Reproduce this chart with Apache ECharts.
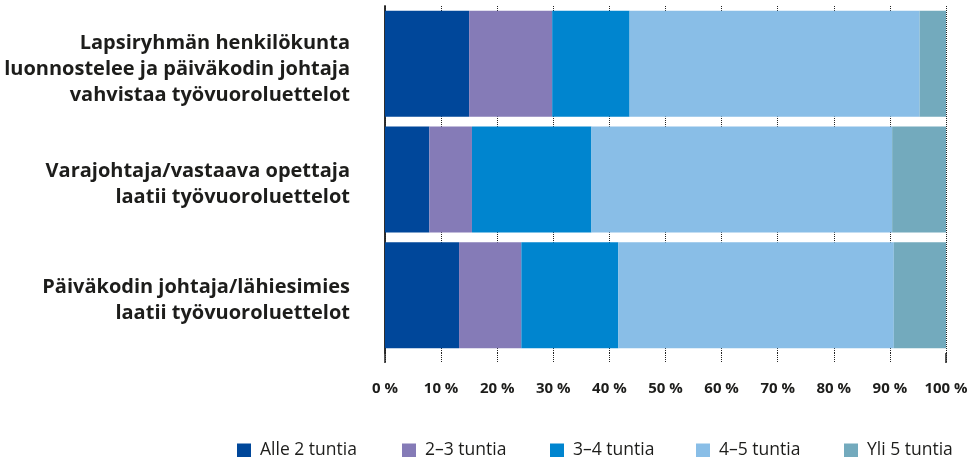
<!DOCTYPE html>
<html><head><meta charset="utf-8">
<script src="https://cdn.jsdelivr.net/npm/echarts@6/dist/echarts.min.js"></script>
<style>html,body{margin:0;padding:0;background:#fff}#c{width:971px;height:457px}</style>
</head><body><div id="c"></div>
<script>
const categories = [
  'Lapsiryhmän henkilökunta\nluonnostelee ja päiväkodin johtaja\nvahvistaa työvuoroluettelot',
  'Varajohtaja/vastaava opettaja\nlaatii työvuoroluettelot',
  'Päiväkodin johtaja/lähiesimies\nlaatii työvuoroluettelot'
];
const seriesNames = ['Alle 2 tuntia', '2–3 tuntia', '3–4 tuntia', '4–5 tuntia', 'Yli 5 tuntia'];
const alle2 = [15.0, 7.9, 13.2];
const h2to3 = [14.8, 7.6, 11.1];
const h3to4 = [13.8, 21.3, 17.3];
const h4to5 = [51.7, 53.6, 49.1];
const yli5 = [4.7, 9.6, 9.3];
const xTickLabels = ['0 %', '10 %', '20 %', '30 %', '40 %', '50 %', '60 %', '70 %', '80 %', '90 %', '100 %'];

const values = [alle2, h2to3, h3to4, h4to5, yli5];
const colors = ['#00479a', '#857bb7', '#0085cf', '#89bee7', '#73aabd'];
const legendLeft = [237, 402, 550, 696, 844];
const txt = '#1d1d1b';
const FONT = 'Open Sans';

const chart = echarts.init(document.getElementById('c'), null, {renderer: 'canvas'});
chart.setOption({
  animation: false,
  backgroundColor: '#fff',
  textStyle: {fontFamily: FONT},
  grid: {left: 385, right: 25, top: 6, bottom: 104},
  xAxis: [{
    type: 'value', min: 0, max: 100, interval: 10,
    axisLine: {show: false},
    axisTick: {show: true, length: 10, lineStyle: {type: 'dotted', color: '#222', width: 1}},
    splitLine: {show: true, lineStyle: {type: 'dotted', color: '#222', width: 1}},
    axisLabel: {
      formatter: (v) => xTickLabels[Math.round(v / 10)],
      fontFamily: FONT, fontWeight: 'bold', fontSize: 15, color: txt, margin: 28
    }
  }, {
    type: 'value', min: 0, max: 100, interval: 100, position: 'bottom',
    axisLine: {show: false},
    axisTick: {show: true, length: 10, lineStyle: {color: '#222', width: 1.5}},
    splitLine: {show: false},
    axisLabel: {show: false}
  }],
  yAxis: [{
    type: 'category', inverse: true, data: categories,
    axisLine: {show: true, lineStyle: {color: '#222', width: 1.5}},
    axisTick: {show: false},
    axisLabel: {
      formatter: (v) => '{s| }\n' + v,
      rich: {s: {fontSize: 1, lineHeight: 10}},
      fontFamily: FONT, fontWeight: 'bold', fontSize: 20, lineHeight: 26,
      color: txt, margin: 35, align: 'right'
    }
  }, {
    type: 'category', inverse: true, data: categories, position: 'right',
    axisLine: {show: true, lineStyle: {color: '#222', width: 1.5}},
    axisTick: {show: false},
    axisLabel: {show: false}
  }],
  legend: seriesNames.map((n, i) => ({
    data: [n], left: legendLeft[i], top: 441.5,
    icon: 'rect', itemWidth: 14, itemHeight: 14, itemGap: 0,
    padding: 0,
    textStyle: {fontFamily: FONT, fontSize: 17.5, color: txt, padding: [0, 0, 0, 4]}
  })),
  series: seriesNames.map((n, i) => ({
    name: n, type: 'bar', stack: 'total', data: values[i],
    barCategoryGap: '8.4%',
    itemStyle: {color: colors[i]},
    emphasis: {disabled: true}
  }))
});
</script></body></html>
